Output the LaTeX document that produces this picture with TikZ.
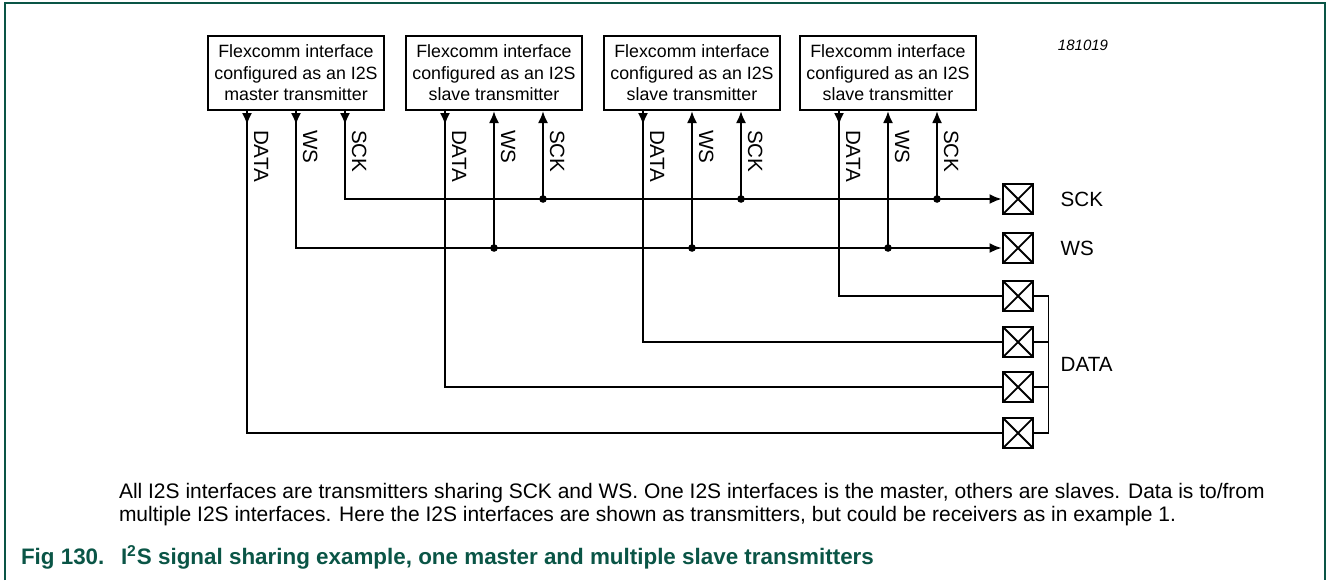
\documentclass[tikz,border=0pt]{standalone}
\usepackage{fontspec}
\setmainfont{Liberation Sans}
\usetikzlibrary{arrows.meta}
\definecolor{nxpgreen}{RGB}{10,85,70}

\begin{document}
\begin{tikzpicture}[x=0.5pt,y=-0.5pt,>={Latex[length=6pt,width=5pt]},
  font=\fontsize{8.9}{10.8}\selectfont,line width=1pt,
  fcbox/.style={draw,line width=1pt,minimum width=88pt,minimum height=37pt,align=center,inner sep=0pt},
  pad/.style={draw,line width=1.4pt,minimum size=15pt,inner sep=0pt,
    path picture={\draw[line width=0.9pt] (path picture bounding box.south west) -- (path picture bounding box.north east)
      (path picture bounding box.north west) -- (path picture bounding box.south east);}},
  pinlabel/.style={rotate=-90,anchor=south west,inner sep=1pt,font=\fontsize{10.3}{12}\selectfont},
  signame/.style={anchor=west,font=\fontsize{10.3}{12}\selectfont},
  jdot/.style={circle,fill,inner sep=0pt,minimum size=3.8pt}]
  \useasboundingbox (0,0) rectangle (1327,580);
  % frame
  \draw[nxpgreen,line width=0.9pt] (5,580) -- (5,3) -- (1325,3) -- (1325,580);

  % flexcomm interfaces
  \node[fcbox] (fc1) at (296,73) {Flexcomm interface\\configured as an I2S\\master transmitter};
  \node[fcbox] (fc2) at (494,73) {Flexcomm interface\\configured as an I2S\\slave transmitter};
  \node[fcbox] (fc3) at (692,73) {Flexcomm interface\\configured as an I2S\\slave transmitter};
  \node[fcbox] (fc4) at (888,73) {Flexcomm interface\\configured as an I2S\\slave transmitter};
  \node[font=\fontsize{7.5}{9}\selectfont\itshape] (code) at (1083,45) {181019};

  % pads
  \node[pad] (pSCK) at (1018,199) {};
  \node[pad] (pWS) at (1018,248) {};
  \node[pad] (pD1) at (1018,296) {};
  \node[pad] (pD2) at (1018,342) {};
  \node[pad] (pD3) at (1018,387) {};
  \node[pad] (pD4) at (1018,433) {};
  \node[signame] (lSCK) at (1053,199) {SCK};
  \node[signame] (lWS) at (1053,248) {WS};
  \node[signame] (lDATA) at (1053,364) {DATA};

  \foreach \b in {1,...,4}{
    \coordinate (fc\b-data) at ([xshift=-24.5pt]fc\b.south);
    \coordinate (fc\b-ws) at (fc\b.south);
    \coordinate (fc\b-sck) at ([xshift=24.5pt]fc\b.south);
    \node[pinlabel] (fc\b-ldata) at ([xshift=2pt,yshift=-8pt]fc\b-data) {DATA};
    \node[pinlabel] (fc\b-lws) at ([xshift=2pt,yshift=-8pt]fc\b-ws) {WS};
    \node[pinlabel] (fc\b-lsck) at ([xshift=2pt,yshift=-8pt]fc\b-sck) {SCK};
    \draw[->] (fc\b-data) -- ++(0,14);
  }

  % master drives SCK and WS
  \draw[->] (fc1-ws) -- ++(0,14);
  \draw[->] (fc1-sck) -- ++(0,14);
  \draw[->] (fc1-sck) |- (pSCK.west);
  \draw[->] (fc1-ws) |- (pWS.west);
  \foreach \b in {2,3,4}{
    \draw[<-] (fc\b-sck) -- (fc\b-sck |- pSCK) node[jdot]{};
    \draw[<-] (fc\b-ws) -- (fc\b-ws |- pWS) node[jdot]{};
  }

  % data lines
  \draw (fc1-data) |- (pD4.west);
  \draw (fc2-data) |- (pD3.west);
  \draw (fc3-data) |- (pD2.west);
  \draw (fc4-data) |- (pD1.west);
  \draw[line width=0.8pt] (pD1.east) -- ++(14,0) |- (pD4.east);
  \draw[line width=0.8pt] (pD2.east) -- ++(14,0);
  \draw[line width=0.8pt] (pD3.east) -- ++(14,0);

  % note and caption
  \node[anchor=north west,align=left,inner sep=0pt,font=\fontsize{10.5}{11.6}\selectfont] (note) at (118,482)
    {All I2S interfaces are transmitters sharing SCK and WS. One I2S interfaces is the master, others are slaves. Data is to/from\\
     multiple I2S interfaces. Here the I2S interfaces are shown as transmitters, but could be receivers as in example 1.};
  \node[anchor=base west,inner sep=0pt,text=nxpgreen,font=\bfseries\fontsize{11.2}{13}\selectfont] (fignum) at (20,564) {Fig 130.};
  \node[anchor=base west,inner sep=0pt,text=nxpgreen,font=\bfseries\fontsize{11.2}{13}\selectfont] (figtitle) at (120,564)
    {I\textsuperscript{2}S signal sharing example, one master and multiple slave transmitters};
\end{tikzpicture}
\end{document}
